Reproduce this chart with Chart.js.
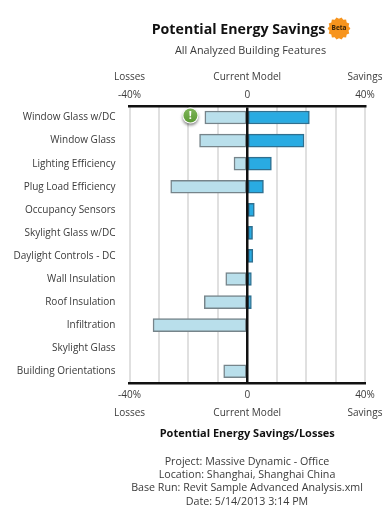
<!DOCTYPE html>
<html>
<head>
<meta charset="utf-8">
<title>Potential Energy Savings</title>
<script src="https://cdn.jsdelivr.net/npm/chart.js@4/dist/chart.umd.min.js"></script>
<style>
    html, body { margin: 0; padding: 0; background: #fff; }
    body { width: 386px; height: 507px; overflow: hidden; position: relative; font-family: "Open Sans", sans-serif; color: #3a3a3a; }
    canvas { position: absolute; left: 0; top: 0; }
    .line { position: absolute; width: 300px; text-align: center; white-space: nowrap; }
    #title { top: 19px; left: 88.5px; font-size: 14.2px; font-weight: 700; color: #111; line-height: 20px; }
    #subtitle { top: 41px; left: 100.5px; font-size: 10.85px; line-height: 18px; }
    #footer { top: 454.5px; left: 97px; font-size: 10.7px; line-height: 13.4px; }
</style>
</head>
<body>
<canvas id="chart" width="386" height="507"></canvas>
<div class="line" id="title">Potential Energy Savings</div>
<div class="line" id="subtitle">All Analyzed Building Features</div>
<div class="line" id="footer">
    Project: Massive Dynamic - Office<br>
    Location: Shanghai, Shanghai China<br>
    Base Run: Revit Sample Advanced Analysis.xml<br>
    Date: 5/14/2013 3:14 PM
</div>
<script>
const features = ["Window Glass w/DC", "Window Glass", "Lighting Efficiency", "Plug Load Efficiency", "Occupancy Sensors", "Skylight Glass w/DC", "Daylight Controls - DC", "Wall Insulation", "Roof Insulation", "Infiltration", "Skylight Glass", "Building Orientations"];
const losses = [-14.4, -16.2, -4.5, -26, null, null, null, -7.3, -14.6, -32, null, -8];
const savings = [21.1, 19.3, 8.2, 5.5, 2.4, 1.8, 1.9, 1.4, 1.4, null, null, null];
const tickValues = [-40, 0, 40];
const tickLabels = ["-40%", "0", "40%"];
const sideLabels = ["Losses", "Current Model", "Savings"];
const warningAt = -19.3;

// green warning dot sits on the first row, the Beta badge next to the title
const extras = {
    id: "extras",
    afterDraw(chart) {
        const ctx = chart.ctx;
        const x = chart.scales.x.getPixelForValue(warningAt);
        const y = chart.scales.y.getPixelForValue(0) - 2;

        ctx.save();
        ctx.shadowColor = "rgba(0,0,0,0.45)";
        ctx.shadowBlur = 3;
        ctx.shadowOffsetY = 2;
        ctx.fillStyle = "#fff";
        ctx.beginPath();
        ctx.arc(x, y, 8, 0, Math.PI * 2);
        ctx.fill();
        ctx.restore();

        ctx.save();
        const g = ctx.createLinearGradient(0, y - 7, 0, y + 7);
        g.addColorStop(0, "#7fb55a");
        g.addColorStop(1, "#5b9a34");
        ctx.fillStyle = g;
        ctx.beginPath();
        ctx.arc(x, y, 7, 0, Math.PI * 2);
        ctx.fill();
        ctx.fillStyle = "#fff";
        ctx.font = "700 11px 'Open Sans'";
        ctx.textAlign = "center";
        ctx.textBaseline = "middle";
        ctx.fillText("!", x, y);
        ctx.restore();

        // starburst
        const bx = 339, by = 28.5;
        ctx.save();
        ctx.fillStyle = "#f7941d";
        ctx.beginPath();
        for (let i = 0; i < 28; i++) {
            const r = i % 2 ? 9.8 : 11.4;
            const a = i / 28 * Math.PI * 2;
            ctx.lineTo(bx + Math.cos(a) * r, by + Math.sin(a) * r);
        }
        ctx.closePath();
        ctx.fill();
        ctx.fillStyle = "#3a2408";
        ctx.font = "700 6.5px 'Open Sans'";
        ctx.textAlign = "center";
        ctx.textBaseline = "middle";
        ctx.fillText("Beta", bx, by);
        ctx.restore();
    }
};

function tickText(value, top) {
    const i = tickValues.indexOf(value);
    if (i < 0) return "";
    return top ? [sideLabels[i], tickLabels[i]] : [tickLabels[i], sideLabels[i]];
}

new Chart(document.getElementById("chart"), {
    type: "bar",
    data: {
        labels: features,
        datasets: [
            {
                label: "Losses",
                data: losses,
                backgroundColor: "#b9dfeb",
                borderColor: "#76848a",
                borderWidth: 1.5,
                borderSkipped: false,
                barThickness: 13
            },
            {
                label: "Savings",
                data: savings,
                backgroundColor: "#29abe2",
                borderColor: "#2f6f8f",
                borderWidth: 1.5,
                borderSkipped: false,
                barThickness: 13
            }
        ]
    },
    options: {
        indexAxis: "y",
        responsive: false,
        animation: false,
        layout: { padding: { top: 66, bottom: 67, left: 0, right: 21 } },
        plugins: { legend: { display: false }, tooltip: { enabled: false } },
        scales: {
            y: {
                stacked: true,
                afterFit(axis) { axis.width = 129.5; },
                grid: { display: false, drawTicks: false },
                border: { display: false },
                ticks: { color: "#3a3a3a", padding: 14, font: { family: "Open Sans", size: 10 } }
            },
            x: {
                stacked: true,
                position: "bottom",
                min: -40,
                max: 40,
                border: { display: true, color: "#111", width: 2.5 },
                grid: { color: "#e0e0e0", lineWidth: 2, drawTicks: false, z: -1 },
                title: {
                    display: true,
                    text: "Potential Energy Savings/Losses",
                    color: "#111",
                    padding: { top: 2, bottom: 0 },
                    font: { family: "Open Sans", size: 11, weight: "700" }
                },
                ticks: {
                    stepSize: 10,
                    autoSkip: false,
                    maxRotation: 0,
                    padding: 3,
                    color: "#3a3a3a",
                    font: { family: "Open Sans", size: 10, lineHeight: 1.8 },
                    callback: (v) => tickText(v, false)
                }
            },
            // top axis also carries the black zero line, drawn over the bars
            xTop: {
                position: "top",
                min: -40,
                max: 40,
                // border has to share the grid's z, it reads its position from the grid pass
                border: { display: true, color: "#111", width: 2.5, z: 1 },
                grid: {
                    z: 1,
                    drawTicks: false,
                    lineWidth: 2.5,
                    color: (c) => (c.tick.value === 0 ? "#111" : "rgba(0,0,0,0)")
                },
                ticks: {
                    stepSize: 10,
                    autoSkip: false,
                    maxRotation: 0,
                    padding: 2,
                    color: "#3a3a3a",
                    font: { family: "Open Sans", size: 10, lineHeight: 1.8 },
                    callback: (v) => tickText(v, true)
                }
            }
        }
    },
    plugins: [extras]
});
</script>
</body>
</html>
